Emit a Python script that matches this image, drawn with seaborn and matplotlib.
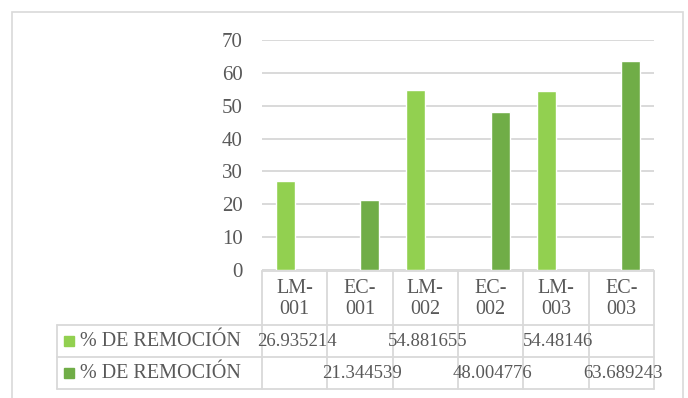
import seaborn as sns
import matplotlib.pyplot as plt
import pandas as pd
from matplotlib.patches import Rectangle

categorias = ["LM-\n001", "EC-\n001", "LM-\n002", "EC-\n002", "LM-\n003", "EC-\n003"]
serie = ["LM", "EC", "LM", "EC", "LM", "EC"]
remocion = [26.935214, 21.344539, 54.881655, 48.004776, 54.48146, 63.689243]
nombre_serie = "% DE REMOCIÓN"
colores = {"LM": "#92D050", "EC": "#70AD47"}

df = pd.DataFrame({"cat": categorias, "serie": serie, "valor": remocion})

sns.set_style("white")
plt.rcParams['font.family'] = ['Liberation Serif', 'DejaVu Serif']
gris = "#595959"
linea = "#D9D9D9"

W, H = 688, 398
fig = plt.figure(figsize=(W / 100, H / 100), dpi=100)

def fx(px):
    return px / W

def fy(py):
    return (H - py) / H

# borde del grafico
fig.patches.append(Rectangle((fx(12), fy(420)), fx(683) - fx(12), fy(12) - fy(420),
                             transform=fig.transFigure, fill=False, edgecolor=linea, lw=1.2))

x0, x1, ytop, ybot = 262, 654, 40, 270
ax = fig.add_axes([fx(x0), fy(ybot), fx(x1) - fx(x0), fy(ytop) - fy(ybot)])
sns.barplot(data=df, x="cat", y="valor", hue="serie", order=categorias,
            hue_order=["LM", "EC"], palette=colores, width=0.58, dodge=True,
            saturation=1, legend=False, ax=ax, zorder=3)
ax.set_xlim(-0.5, 5.5)
ax.set_ylim(0, 70)
ax.set_yticks(range(0, 71, 10))
ax.set_xticks([])
ax.set_xlabel("")
ax.set_ylabel("")
ax.yaxis.grid(True, color=linea, lw=1.4, zorder=0)
ax.tick_params(axis="y", length=0, pad=14, labelsize=15, labelcolor=gris)
for s in ax.spines.values():
    s.set_visible(False)

# tabla de datos
col_w = (x1 - x0) / 6
cols = [x0 + i * col_w for i in range(7)]
r0, r1, r2, r3 = 271, 325, 357, 389
lw = 1.3
for xc in cols:
    fig.add_artist(plt.Line2D([fx(xc)] * 2, [fy(r0), fy(r3)], transform=fig.transFigure, color=linea, lw=lw))
fig.add_artist(plt.Line2D([fx(x0), fx(x1)], [fy(r0)] * 2, transform=fig.transFigure, color=linea, lw=lw))
for yr in (r1, r2, r3):
    fig.add_artist(plt.Line2D([fx(57), fx(x1)], [fy(yr)] * 2, transform=fig.transFigure, color=linea, lw=lw))
fig.add_artist(plt.Line2D([fx(57)] * 2, [fy(r1), fy(r3)], transform=fig.transFigure, color=linea, lw=lw))

for i, c in enumerate(categorias):
    cx = fx(cols[i] + col_w / 2)
    fig.text(cx, fy(299), c, ha="center", va="center", fontsize=14.5, color=gris, linespacing=1.15)

rows = [("LM", (r1 + r2) / 2), ("EC", (r2 + r3) / 2)]
for key, yc in rows:
    fig.patches.append(Rectangle((fx(64), fy(yc + 5)), fx(10), fy(yc - 5) - fy(yc + 5),
                                 transform=fig.transFigure, color=colores[key]))
    fig.text(fx(80), fy(yc), nombre_serie, ha="left", va="center", fontsize=14.5, color=gris)
    for i, (s, v) in enumerate(zip(serie, remocion)):
        if s == key:
            fig.text(fx(cols[i] + col_w / 2 + 2), fy(yc), str(v),
                     ha="center", va="center", fontsize=13.5, color=gris)

fig.savefig("out.png", dpi=100)
